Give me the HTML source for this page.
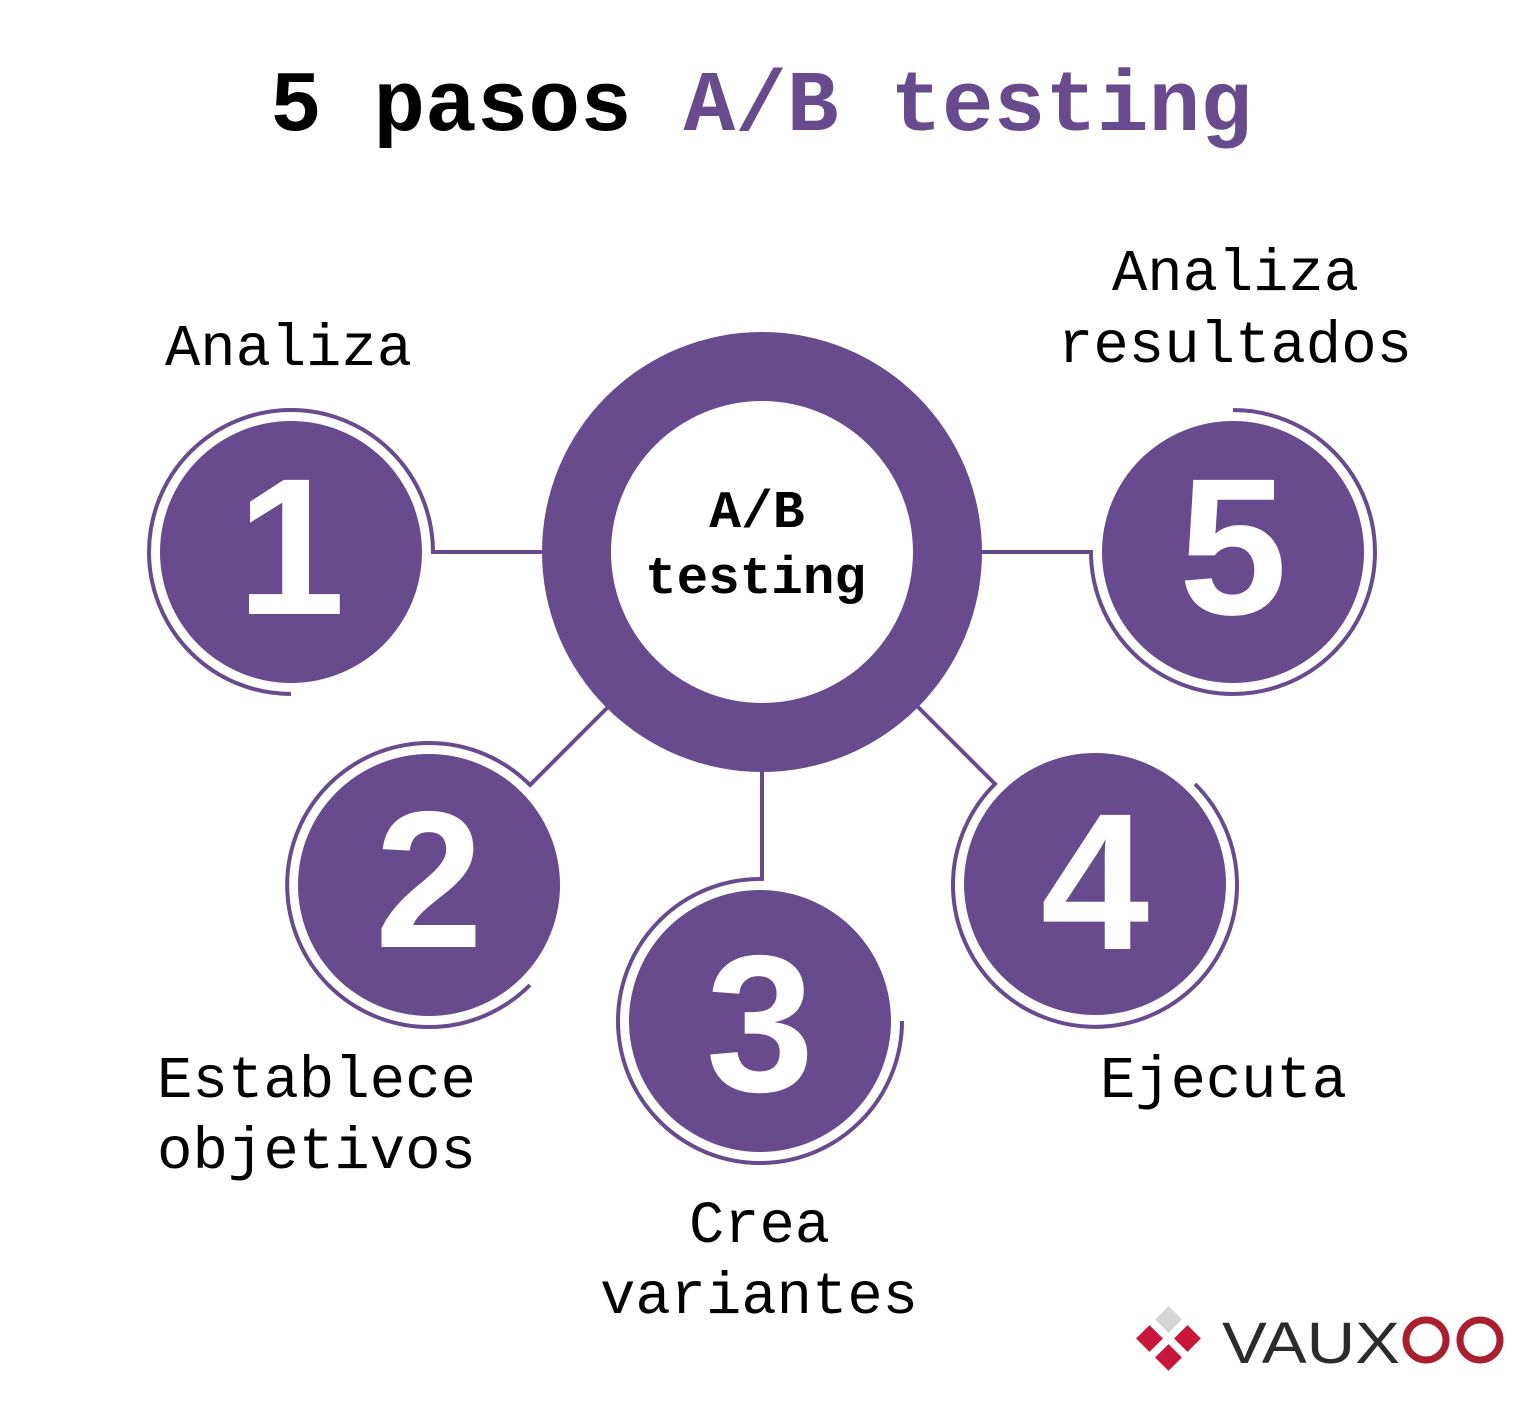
<!DOCTYPE html>
<html><head><meta charset="utf-8"><style>html,body{margin:0;padding:0;background:#fff}svg{display:block}</style></head>
<body>
<svg width="1535" height="1413" viewBox="0 0 1535 1413" xmlns="http://www.w3.org/2000/svg">
<g font-family="Liberation Mono, monospace">
<text x="270" y="130" font-size="86" font-weight="bold" textLength="982" lengthAdjust="spacingAndGlyphs"><tspan fill="#000">5 pasos </tspan><tspan fill="#674b8c">A/B testing</tspan></text>
</g>
<g fill="none" stroke="#674b8c" stroke-width="4">
<path d="M291 694 A142 142 0 1 1 433 552 L542 552"/>
<path d="M1233 410 A142 142 0 1 1 1091 552 L982 552"/>
<path d="M607 708 L530 785 A142 142 0 1 0 530 985"/>
<path d="M762 770 L762 879 A142 142 0 1 0 902 1021"/>
<path d="M918 707 L995 784 A142 142 0 1 0 1195 784"/>
</g>
<g fill="#674b8c">
<circle cx="291" cy="552" r="131"/>
<circle cx="1233" cy="552" r="131"/>
<circle cx="429" cy="885" r="131"/>
<circle cx="760" cy="1021" r="131"/>
<circle cx="1095" cy="884" r="131"/>
<circle cx="762" cy="552" r="220"/>
</g>
<circle cx="762" cy="552" r="151" fill="#fff"/>
<g font-family="Liberation Sans, sans-serif" font-weight="bold" font-size="195" fill="#fff" text-anchor="middle">
<text x="291" y="614">1</text>
<text x="1233" y="614">5</text>
<text x="429" y="947">2</text>
<text x="760" y="1091">3</text>
<text x="1095" y="949">4</text>
</g>
<g font-family="Liberation Mono, monospace" fill="#000">
<text x="757" y="527" font-size="53" font-weight="bold" text-anchor="middle">A/B</text>
<text x="645" y="593" font-size="53" font-weight="bold" textLength="221" lengthAdjust="spacingAndGlyphs">testing</text>
<text x="165" y="365" font-size="59" textLength="247" lengthAdjust="spacingAndGlyphs">Analiza</text>
<text x="1112" y="290" font-size="59" textLength="247" lengthAdjust="spacingAndGlyphs">Analiza</text>
<text x="1058" y="362" font-size="59" textLength="354" lengthAdjust="spacingAndGlyphs">resultados</text>
<text x="157" y="1097" font-size="59" textLength="319" lengthAdjust="spacingAndGlyphs">Establece</text>
<text x="157" y="1168" font-size="59" textLength="319" lengthAdjust="spacingAndGlyphs">objetivos</text>
<text x="689" y="1242" font-size="59" textLength="141" lengthAdjust="spacingAndGlyphs">Crea</text>
<text x="600" y="1313" font-size="59" textLength="318" lengthAdjust="spacingAndGlyphs">variantes</text>
<text x="1100" y="1097" font-size="59" textLength="247" lengthAdjust="spacingAndGlyphs">Ejecuta</text>
</g>
<g>
<rect x="1159" y="1310" width="19" height="19" fill="#d5d5d8" transform="rotate(45 1168.5 1319.5)"/>
<rect x="1140" y="1329" width="19" height="19" fill="#c8173a" transform="rotate(45 1149.5 1338.5)"/>
<rect x="1178" y="1329" width="19" height="19" fill="#c8173a" transform="rotate(45 1187.5 1338.5)"/>
<rect x="1159" y="1348" width="19" height="19" fill="#c8173a" transform="rotate(45 1168.5 1357.5)"/>
<text x="1222" y="1363" font-family="Liberation Sans, sans-serif" font-size="58" fill="#2b2a2e" textLength="178" lengthAdjust="spacingAndGlyphs">VAUX</text>
<circle cx="1426" cy="1340" r="20" fill="none" stroke="#a8202f" stroke-width="7"/>
<circle cx="1480" cy="1340" r="20" fill="none" stroke="#a8202f" stroke-width="7"/>
</g>
</svg>
</body></html>
